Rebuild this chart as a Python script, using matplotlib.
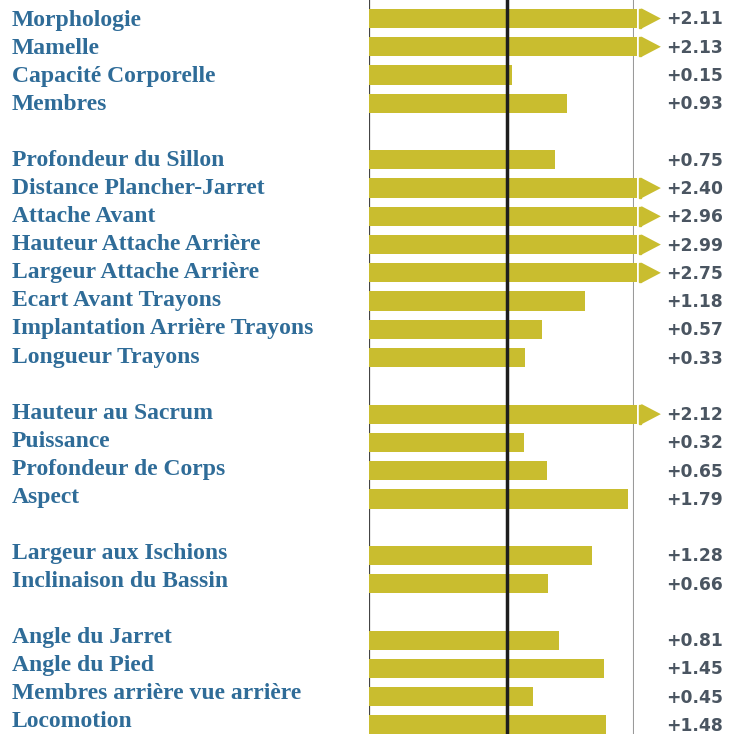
"""Bar chart of type traits (index values) with capped bars."""

import matplotlib
matplotlib.use("Agg")
import matplotlib.pyplot as plt
from matplotlib.patches import Polygon

# Data: None marks an empty row between groups
labels = [
    "Morphologie", "Mamelle", "Capacité Corporelle", "Membres",
    None,
    "Profondeur du Sillon", "Distance Plancher-Jarret", "Attache Avant",
    "Hauteur Attache Arrière", "Largeur Attache Arrière", "Ecart Avant Trayons",
    "Implantation Arrière Trayons", "Longueur Trayons",
    None,
    "Hauteur au Sacrum", "Puissance", "Profondeur de Corps", "Aspect",
    None,
    "Largeur aux Ischions", "Inclinaison du Bassin",
    None,
    "Angle du Jarret", "Angle du Pied", "Membres arrière vue arrière", "Locomotion",
]
values = [
    2.11, 2.13, 0.15, 0.93,
    None,
    0.75, 2.40, 2.96, 2.99, 2.75, 1.18, 0.57, 0.33,
    None,
    2.12, 0.32, 0.65, 1.79,
    None,
    1.28, 0.66,
    None,
    0.81, 1.45, 0.45, 1.48,
]

x_min, x_max = -1.875, 1.875
ref_line = 0.08

bar_color = "#c9bd2f"
label_color = "#2f6c98"
value_color = "#4a5561"

W, H = 732, 734
fig = plt.figure(figsize=(W / 100, H / 100), dpi=100)
ax_left, ax_right = 369 / W, 634 / W
ax = fig.add_axes([ax_left, 0, ax_right - ax_left, 1])

y0, step = 18.5, 28.26
ax.set_ylim((H - y0) / step, -y0 / step)
ax.set_xlim(x_min, x_max)

bar_h = 0.68
for i, (lab, v) in enumerate(zip(labels, values)):
    if lab is None:
        continue
    capped = v > x_max
    end = min(v, x_max + 0.04)
    ax.barh(i, end - x_min, left=x_min, height=bar_h, color=bar_color,
            edgecolor="none", clip_on=False, zorder=2)
    if capped:
        # small strip and arrow head past the right border
        ax.add_patch(plt.Rectangle((x_max + 0.065, i - bar_h / 2), 0.04, bar_h,
                                   color=bar_color, clip_on=False, zorder=2))
        ax.add_patch(Polygon([(x_max + 0.105, i - 0.36), (x_max + 0.105, i + 0.36),
                              (x_max + 0.38, i)], closed=True, color=bar_color,
                             clip_on=False, zorder=2, lw=0))
    # labels sit on a baseline grid slightly tighter than the bars
    fig.text(12 / W, 1 - (25.7 + 28.07 * i) / H, lab, ha="left", va="baseline",
             fontsize=17, fontfamily="Liberation Serif", fontweight="bold",
             color=label_color)
    fig.text(723 / W, 1 - (y0 + step * i + 1) / H, f"+{v:.2f}", ha="right",
             va="center", fontsize=12.3, fontfamily="DejaVu Sans", fontweight="bold",
             color=value_color)

ax.axvline(ref_line, color="#1e1e1e", lw=2.5, zorder=3)
ax.axvline(x_min, color="#444444", lw=1.6, zorder=1)
ax.axvline(x_max, color="#9a9a9a", lw=1.5, zorder=1)

ax.axis("off")
fig.savefig("out.png", dpi=100)
